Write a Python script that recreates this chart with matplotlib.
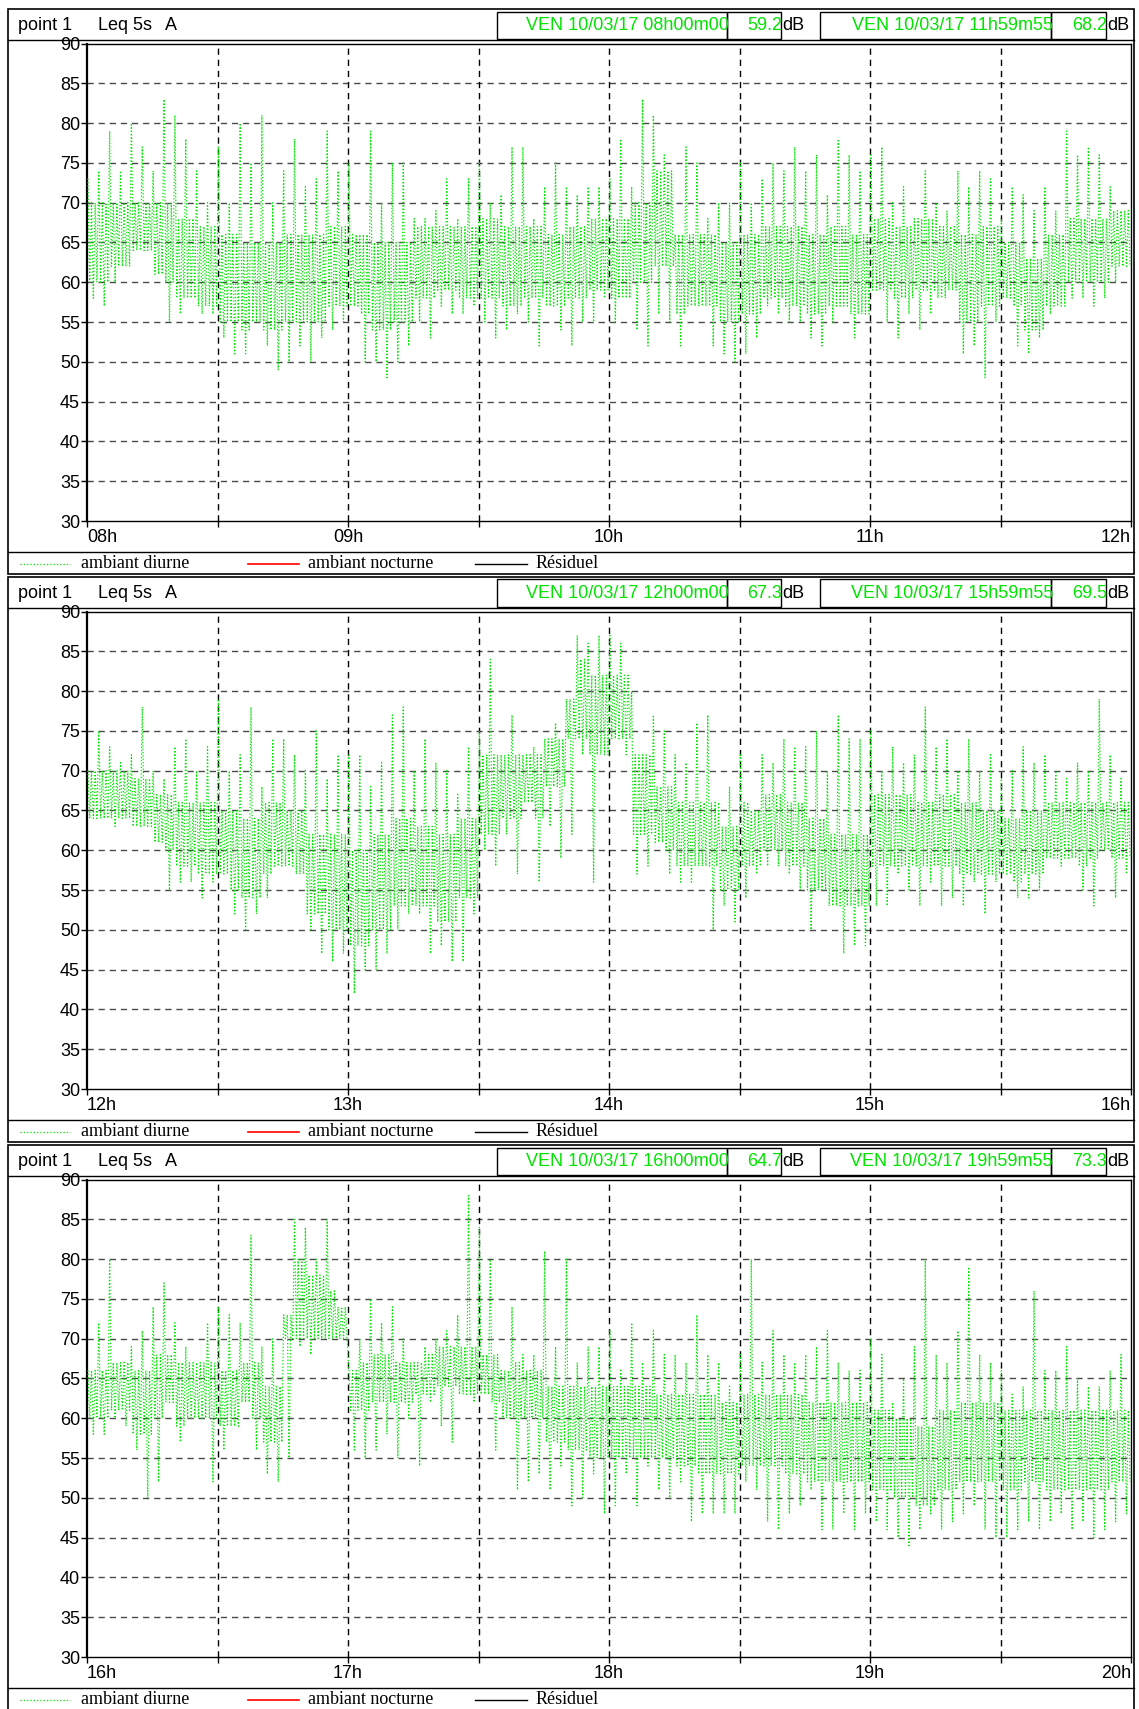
import matplotlib
matplotlib.use('Agg')
import matplotlib.pyplot as plt
from matplotlib.patches import Rectangle
from matplotlib.lines import Line2D
import numpy as np

# Lecture des niveaux (dB(A)) : max / min par tranche de 2.5 min
p1_hi = [73, 74, 79, 74, 80, 77, 74, 83, 81, 78, 74, 70,
         77, 70, 80, 75, 81, 70, 74, 78, 72, 73, 79, 74,
         75, 66, 79, 70, 75, 75, 68, 68, 69, 73, 68, 73,
         75, 70, 71, 77, 77, 68, 72, 75, 72, 71, 72, 72,
         73, 78, 72, 83, 81, 76, 66, 77, 75, 68, 70, 70,
         75, 70, 73, 75, 74, 77, 74, 76, 71, 78, 76, 74,
         76, 77, 70, 72, 68, 74, 70, 69, 74, 72, 74, 73,
         68, 72, 71, 69, 72, 69, 79, 76, 77, 76, 72, 69]
p1_lo = [58, 57, 60, 62, 64, 64, 61, 55, 56, 58, 56, 56,
         53, 51, 51, 55, 52, 49, 50, 52, 50, 53, 54, 55,
         57, 50, 50, 48, 50, 52, 55, 53, 57, 56, 56, 57,
         55, 53, 54, 56, 55, 52, 57, 54, 52, 55, 55, 58,
         55, 58, 54, 52, 56, 55, 52, 57, 57, 52, 51, 50,
         51, 53, 57, 56, 55, 55, 53, 52, 55, 57, 53, 56,
         59, 55, 53, 56, 54, 56, 58, 59, 51, 52, 48, 55,
         58, 52, 51, 53, 56, 57, 58, 58, 57, 58, 60, 62]
# bande dense (haut / bas) par tranche de 5 min
p1_ctop = [70, 70, 70, 70, 68, 67, 66, 65, 65, 66, 66, 67,
           66, 65, 65, 67, 67, 67, 68, 67, 67, 66, 67, 68,
           68, 70, 74, 66, 66, 65, 66, 67, 67, 66, 67, 66,
           68, 67, 68, 67, 66, 67, 65, 63, 66, 68, 68, 69]
p1_cbot = [60, 62, 64, 60, 58, 57, 55, 54, 54, 55, 55, 57,
           56, 54, 55, 58, 59, 58, 58, 57, 58, 57, 58, 59,
           58, 60, 62, 56, 57, 55, 56, 58, 57, 56, 57, 56,
           59, 58, 59, 58, 55, 57, 57, 54, 57, 60, 60, 62]

p2_hi = [70, 75, 73, 71, 72, 78, 70, 69, 73, 74, 70, 73,
         79, 70, 72, 78, 68, 74, 74, 72, 70, 75, 69, 72,
         72, 72, 68, 71, 77, 78, 70, 74, 71, 70, 67, 73,
         75, 84, 72, 77, 72, 73, 74, 76, 79, 87, 86, 87,
         87, 86, 80, 72, 77, 75, 72, 71, 76, 77, 66, 68,
         72, 65, 72, 71, 74, 73, 73, 75, 70, 77, 74, 74,
         75, 70, 73, 71, 72, 78, 73, 74, 70, 74, 70, 72,
         69, 70, 73, 71, 72, 70, 69, 71, 70, 79, 72, 69]
p2_lo = [64, 64, 63, 64, 63, 63, 61, 55, 56, 56, 54, 56,
         57, 52, 50, 52, 54, 58, 58, 57, 50, 47, 46, 47,
         42, 45, 45, 47, 50, 52, 52, 47, 48, 46, 46, 52,
         60, 58, 62, 57, 66, 56, 63, 59, 62, 72, 56, 72,
         74, 72, 57, 58, 61, 57, 56, 56, 58, 50, 53, 51,
         54, 57, 58, 58, 57, 55, 50, 55, 53, 47, 48, 48,
         53, 53, 57, 55, 53, 56, 53, 54, 53, 56, 52, 56,
         57, 54, 54, 55, 59, 58, 59, 55, 53, 60, 54, 57]
p2_ctop = [70, 70, 69, 67, 66, 66, 65, 64, 66, 65, 62, 62,
           60, 62, 64, 63, 62, 64, 72, 72, 72, 74, 84, 82,
           82, 72, 68, 66, 66, 63, 66, 67, 66, 64, 62, 62,
           67, 67, 66, 67, 66, 65, 64, 65, 66, 66, 66, 66]
p2_cbot = [64, 64, 63, 60, 58, 57, 55, 54, 57, 56, 52, 50,
           48, 50, 53, 53, 51, 54, 62, 64, 64, 68, 74, 72,
           74, 62, 60, 58, 58, 55, 58, 60, 58, 55, 53, 53,
           58, 58, 58, 58, 57, 57, 56, 57, 59, 58, 59, 59]

p3_hi = [66, 72, 80, 67, 69, 71, 74, 77, 72, 69, 67, 72,
         74, 73, 72, 83, 69, 70, 73, 85, 84, 80, 85, 74,
         66, 70, 75, 72, 74, 70, 67, 69, 70, 71, 73, 88,
         84, 80, 66, 74, 68, 68, 81, 69, 80, 67, 69, 69,
         71, 66, 72, 67, 71, 68, 68, 67, 73, 68, 67, 64,
         68, 80, 67, 71, 68, 67, 68, 69, 71, 67, 66, 66,
         70, 68, 62, 65, 69, 80, 68, 67, 71, 79, 68, 67,
         66, 63, 64, 76, 66, 66, 69, 65, 64, 64, 66, 68]
p3_lo = [58, 58, 60, 59, 56, 50, 52, 62, 57, 60, 60, 52,
         56, 59, 62, 56, 53, 52, 55, 69, 68, 70, 70, 70,
         56, 55, 56, 58, 55, 60, 54, 62, 59, 57, 63, 62,
         63, 56, 60, 51, 52, 53, 51, 54, 49, 50, 53, 48,
         49, 53, 49, 54, 51, 50, 52, 47, 48, 48, 48, 48,
         52, 51, 47, 46, 48, 49, 51, 46, 46, 48, 46, 48,
         47, 46, 45, 44, 46, 48, 46, 47, 48, 49, 46, 45,
         45, 46, 47, 46, 47, 48, 46, 47, 45, 46, 47, 48]
p3_ctop = [66, 67, 66, 68, 67, 67, 66, 67, 64, 80, 78, 76,
           67, 68, 67, 68, 69, 69, 68, 67, 66, 64, 64, 64,
           64, 64, 63, 63, 63, 62, 63, 63, 63, 62, 62, 62,
           61, 60, 59, 61, 62, 62, 61, 61, 61, 61, 61, 61]
p3_cbot = [60, 61, 58, 60, 59, 60, 59, 60, 57, 70, 70, 70,
           61, 62, 62, 63, 64, 63, 62, 60, 60, 57, 56, 55,
           55, 55, 55, 54, 53, 53, 54, 54, 53, 52, 52, 52,
           51, 50, 49, 51, 52, 52, 51, 52, 51, 51, 51, 52]

starts = [8, 12, 16]
debut = ['VEN 10/03/17 08h00m00', 'VEN 10/03/17 12h00m00', 'VEN 10/03/17 16h00m00']
fin = ['VEN 10/03/17 11h59m55', 'VEN 10/03/17 15h59m55', 'VEN 10/03/17 19h59m55']
val_debut = ['59.2', '67.3', '64.7']
val_fin = ['68.2', '69.5', '73.3']
hi_all = [p1_hi, p2_hi, p3_hi]
lo_all = [p1_lo, p2_lo, p3_lo]
ctop_all = [p1_ctop, p2_ctop, p3_ctop]
cbot_all = [p1_cbot, p2_cbot, p3_cbot]

W, H = 1139, 1709
fig = plt.figure(figsize=(W / 100, H / 100), dpi=100)
SANS = 'Liberation Sans'
SERIF = 'Liberation Serif'
GREEN = '#00e400'


def fx(x):
    return x / W


def fy(y):
    return 1 - y / H


def rect(x0, y0, x1, y1, lw=1.0):
    fig.add_artist(Rectangle((fx(x0), fy(y1)), fx(x1) - fx(x0), fy(y0) - fy(y1),
                             transform=fig.transFigure, fill=False, ec='black', lw=lw))


def seg(x0, y0, x1, y1, color='black', lw=1.0, ls='-'):
    fig.add_artist(Line2D([fx(x0), fx(x1)], [fy(y0), fy(y1)], transform=fig.transFigure,
                          color=color, lw=lw, ls=ls))


for k in range(3):
    o = 568 * k
    h0 = starts[k]

    # cadre du bloc
    rect(8, o + 9, 1134, o + 574, lw=1.2)
    seg(8, o + 40, 1134, o + 40)
    seg(8, o + 552, 1134, o + 552)

    # en-tete
    fig.text(fx(18), fy(o + 25), 'point 1', family=SANS, fontsize=13, va='center')
    fig.text(fx(98), fy(o + 25), 'Leq 5s', family=SANS, fontsize=13, va='center')
    fig.text(fx(165), fy(o + 25), 'A', family=SANS, fontsize=13, va='center')
    rect(497, o + 11.5, 727, o + 38.5)
    rect(727, o + 11.5, 781, o + 38.5)
    rect(820, o + 11.5, 1051, o + 38.5)
    rect(1051, o + 11.5, 1106, o + 38.5)
    fig.text(fx(729), fy(o + 25), debut[k], family=SANS, fontsize=13, va='center',
             ha='right', color=GREEN)
    fig.text(fx(782), fy(o + 25), val_debut[k], family=SANS, fontsize=13, va='center',
             ha='right', color=GREEN)
    fig.text(fx(782), fy(o + 25), 'dB', family=SANS, fontsize=13, va='center')
    fig.text(fx(1053), fy(o + 25), fin[k], family=SANS, fontsize=13, va='center',
             ha='right', color=GREEN)
    fig.text(fx(1107), fy(o + 25), val_fin[k], family=SANS, fontsize=13, va='center',
             ha='right', color=GREEN)
    fig.text(fx(1107), fy(o + 25), 'dB', family=SANS, fontsize=13, va='center')

    # graphique
    ax = fig.add_axes([fx(87), fy(o + 521), fx(1131) - fx(87), fy(o + 43.5) - fy(o + 521)])
    hi = hi_all[k]
    lo = lo_all[k]
    n = len(hi)
    dt = 4.0 / n
    per_c = n // len(ctop_all[k])
    t = []
    v = []
    for i in range(n):
        c = i // per_c
        ct = min(ctop_all[k][c], hi[i])
        cb = max(cbot_all[k][c], lo[i])
        seq = [hi[i], cb, ct, lo[i], ct, cb]
        for j, val in enumerate(seq):
            t.append(h0 + (i + (j + 0.5) / len(seq)) * dt)
            v.append(val)
    ax.plot(t, v, ls=':', color=GREEN, lw=0.9, zorder=3)

    ax.set_xlim(h0, h0 + 4)
    ax.set_ylim(30, 90)
    for yv in range(35, 90, 5):
        ax.axhline(yv, color='#4a4a4a', lw=1.0, ls=(0, (4.5, 3.5)), zorder=1)
    for xv in np.arange(h0 + 0.5, h0 + 4, 0.5):
        ax.axvline(xv, color='black', lw=1.0, ls=(0, (4.5, 3.5)), zorder=1)

    ax.set_yticks(range(30, 91, 5))
    xt = np.arange(h0, h0 + 4.01, 0.5)
    ax.set_xticks(xt)
    ax.set_xticklabels(['%02dh' % int(x) if x == int(x) else '' for x in xt])
    ax.tick_params(axis='both', direction='out', length=4, width=1, labelsize=13, pad=2)
    ax.tick_params(axis='y', pad=1)
    for lab in ax.get_xticklabels() + ax.get_yticklabels():
        lab.set_family(SANS)
    labs = ax.get_xticklabels()
    labs[0].set_ha('left')
    labs[-1].set_ha('right')
    for sp in ax.spines.values():
        sp.set_color('black')
        sp.set_linewidth(1.0)
    ax.spines['left'].set_linewidth(1.6)

    # legende
    ly = o + 564
    seg(20, ly, 70, ly, color=GREEN, lw=0.9, ls=':')
    fig.text(fx(81), fy(ly), 'ambiant diurne', family=SERIF, fontsize=13, va='center')
    seg(248, ly, 299, ly, color='#ff0000', lw=1.2)
    fig.text(fx(308), fy(ly), 'ambiant nocturne', family=SERIF, fontsize=13, va='center')
    seg(475, ly, 527, ly, color='black', lw=1.0)
    fig.text(fx(536), fy(ly), 'Résiduel', family=SERIF, fontsize=13, va='center')

fig.savefig('out.png', dpi=100)
